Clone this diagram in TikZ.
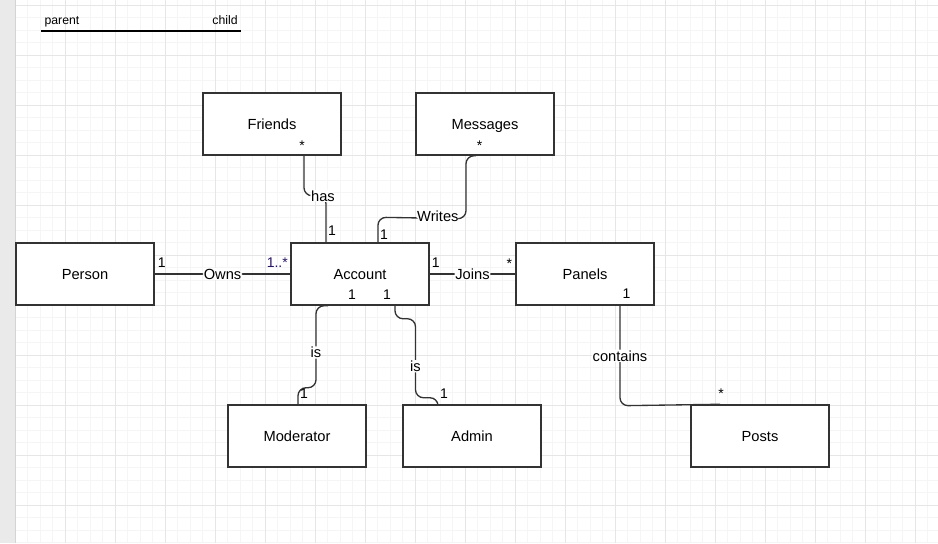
\documentclass[tikz,border=0pt]{standalone}
\usepackage{fontspec}
\setmainfont{Liberation Sans}
\usetikzlibrary{calc}
\definecolor{gridminor}{RGB}{245,245,245}
\definecolor{gridmajor}{RGB}{230,230,230}
\definecolor{sidebar}{RGB}{234,234,234}
\definecolor{sideedge}{RGB}{212,212,212}
\definecolor{multblue}{RGB}{40,20,100}

\begin{document}
\begin{tikzpicture}%
        [x={(0.75pt,0pt)},
        y={(0pt,-0.75pt)},
        minorgrid/.style={color=gridminor, line width=0.75pt},
        majorgrid/.style={color=gridmajor, line width=0.75pt},
        entity/.style={draw=black!80, line width=1.1pt, fill=white, minimum width=103.5pt, minimum height=46.5pt, inner sep=0pt, text depth=0pt, font=\fontsize{11}{13}\selectfont},
        relation/.style={color=black!80, line width=1pt, rounded corners=6pt},
        verb/.style={fill=white, text=black, inner sep=0.6pt, text depth=0pt, font=\fontsize{11}{13}\selectfont},
        mult/.style={inner sep=0pt, font=\fontsize{10.5}{12}\selectfont},
        legend/.style={inner sep=0pt, anchor=base, font=\fontsize{9.2}{11}\selectfont}]
%
\useasboundingbox (0,0) rectangle (938,543);
%%
%% The background grid
%%
\fill[white] (0,0) rectangle (938,543);
\begin{scope}[shift={(15,5)}]
\draw[minorgrid, step=9.375pt] (0,538) grid (923,-5);
\draw[majorgrid, step=37.5pt] (0,538) grid (923,-5);
\end{scope}
\fill[sidebar] (0,0) rectangle (15.5,543);
\draw[sideedge, line width=0.75pt] (15.5,0) -- (15.5,543);
%%
%% The legend
%%
\coordinate (parentEnd) at (41,31);
\coordinate (childEnd) at (241,31);
\draw[line width=1.1pt] (parentEnd) -- (childEnd);
\node[legend] (parent) at (62,24) {parent};
\node[legend] (child) at (225,24) {child};
%%
%% The entities
%%
\node[entity] (friends) at (272,124) {Friends};
\node[entity] (messages) at (485,124) {Messages};
\node[entity] (person) at (85,274) {Person};
\node[entity] (account) at (360,274) {Account};
\node[entity] (panels) at (585,274) {Panels};
\node[entity] (moderator) at (297,436) {Moderator};
\node[entity] (admin) at (472,436) {Admin};
\node[entity] (posts) at (760,436) {Posts};
%%
%% The relations
%%
\draw[relation] ($(friends.south)+(32,0)$) -- ++(0,40) -- node[verb, pos=0.86] {has} ++(22,0) -- ($(account.north)+(-34,0)$);
\draw[relation] ($(messages.south)+(-9,0)$) -- ++(-10,0) -- ++(0,63) -- node[verb, pos=0.32, yshift=1.5pt] {Writes} ($(account.north)+(18,-25)$) -- ($(account.north)+(18,0)$);
\draw[relation] (person.east) -- node[verb] {Owns} (account.west);
\draw[relation] (account.east) -- node[verb] {Joins} (panels.west);
\draw[relation] ($(account.south)+(-32,0)$) -- ++(-12,0) -- node[verb, pos=0.57] {is} ++(0,82) -- ++(-18,0) -- ($(moderator.north)+(1,0)$);
\draw[relation] ($(account.south)+(35,0)$) -- ++(0,13) -- ++(20.5,0) -- node[verb, pos=0.6] {is} ++(0,79) -- ++(22.5,0) -- ($(admin.north)+(-34,0)$);
\draw[relation] ($(panels.south)+(35,0)$) -- node[verb] {contains} ++(0,100) -- ($(posts.north)+(-40,0)$);
%%
%% The multiplicities
%%
\node[mult] (m1) at ($(friends.south)+(30,-10.5)$) {*};
\node[mult] (m2) at ($(messages.south)+(-5.5,-10.5)$) {*};
\node[mult] (m3) at ($(account.north)+(-28,-12)$) {1};
\node[mult] (m4) at ($(account.north)+(24,-8)$) {1};
\node[mult] (m5) at ($(person.east)+(7,-11)$) {1};
\node[mult, text=multblue] (m6) at ($(account.west)+(-13,-11)$) {1..*};
\node[mult] (m7) at ($(account.east)+(6,-11)$) {1};
\node[mult] (m8) at ($(panels.west)+(-6,-10.5)$) {*};
\node[mult] (m9) at ($(account.south)+(-8,-11)$) {1};
\node[mult] (m10) at ($(account.south)+(27,-11)$) {1};
\node[mult] (m11) at ($(panels.south)+(41.5,-12)$) {1};
\node[mult] (m12) at ($(moderator.north)+(7,-11)$) {1};
\node[mult] (m13) at ($(admin.north)+(-28,-11)$) {1};
\node[mult] (m14) at ($(posts.north)+(-39,-10.5)$) {*};
%%
\end{tikzpicture}
\end{document}
